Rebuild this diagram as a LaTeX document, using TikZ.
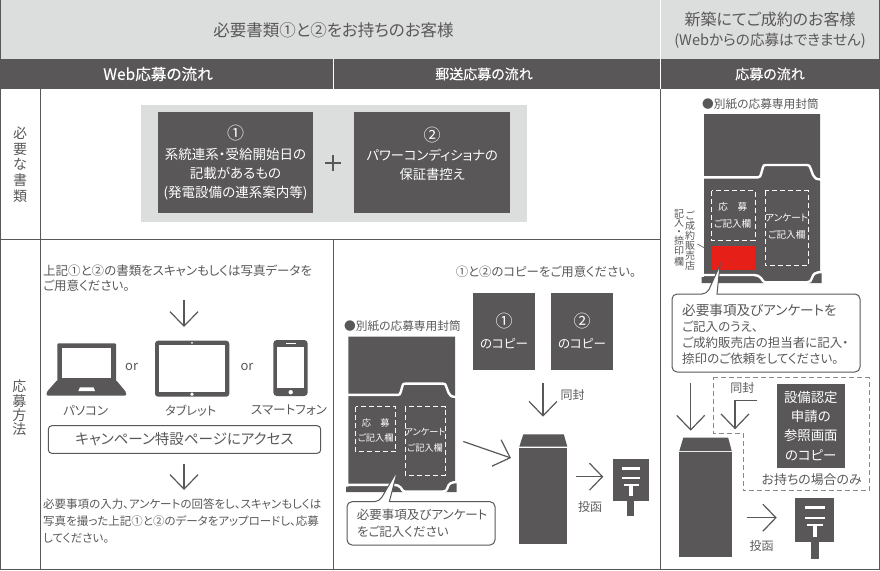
\documentclass[tikz,border=0pt]{standalone}
\usepackage{fontspec}
\setmainfont{Noto Sans CJK JP}[RawFeature={+palt}]
\usetikzlibrary{arrows.meta}
\definecolor{ink}{HTML}{595757}
\definecolor{pale}{HTML}{DCDDDD}
\definecolor{stamp}{HTML}{E71F19}
\newcommand\jfs[2]{\fontsize{#1}{#2}\selectfont}
\tikzset{
  txt/.style={inner sep=0pt,text=ink,font=\jfs{12}{15}},
  wtxt/.style={inner sep=0pt,text=white,font=\jfs{12.5}{19},align=center},
  hdtxt/.style={inner sep=0pt,text=white,font=\jfs{14}{18}\addfontfeature{FakeBold=0.2}},
  darkbox/.style={fill=ink,draw=none,inner sep=0pt,text=white,align=center},
  bigarrow/.style={draw=ink,line width=1.2pt,-{Straight Barb[length=14.5pt,width=28pt,line width=1.2pt]}},
  smallarrow/.style={draw=ink,line width=1.2pt,-{Straight Barb[length=13pt,width=27pt,line width=1.2pt]}},
  gridline/.style={draw=ink,line width=.9pt},
  dashbox/.style={draw=white,line width=.9pt,dash pattern=on 5pt off 3pt},
  envelope/.pic={
    \fill[ink] (0,0)--(116,0)--(116,158)--(117.7,158)--(117.7,169)--(-2.3,169)--(-2.3,163)--(0,163)--cycle;
    \draw[white,line width=2.4pt] (-4,63.3)--(54,63.3) .. controls (56,63.3) and (56.5,62) .. (57,60) -- (59,53) .. controls (59.5,51.5) and (60,51) .. (62,51) -- (103,51) .. controls (105,51) and (105.5,52) .. (106,53) -- (109,61) .. controls (110,64) and (112,65.5) .. (118,65.5);
    \draw[white,line width=2.4pt] (-4,161)--(50,161) .. controls (53,161) and (55,162) .. (57,164) -- (59,167) .. controls (60,168.3) and (61,168.3) .. (63,168.3) -- (103,168.3) .. controls (106,168.3) and (107,167) .. (108,164) .. controls (109,160) and (111,158) .. (119,158);
    \fill[white] (60,168.5) rectangle (104,171);
  },
  postbox/.pic={
    \fill[ink] (0,0) rectangle (39,44.6);
    \fill[ink] (15.4,44) rectangle (23.4,61);
    \fill[white] (9.7,8) rectangle (29.7,11.3);
    \fill[white] (9.7,19) rectangle (29.7,21);
    \fill[white] (12,26.3) rectangle (28,28.3);
    \fill[white] (18,27) rectangle (21.4,39);
  }
}
\newcommand\closedenv[5]{% left, right, top, flap bottom, bottom
  \fill[ink] ({#1+4},#3)--({#2-3.5},#3)--(#2,#4)--(#1,#4)--cycle;
  \fill[ink] (#1,{#4+1.3}) rectangle (#2,#5);
}
\begin{document}
\begin{tikzpicture}[x=1pt,y=-1pt]
\useasboundingbox (0,0) rectangle (880,570);
% header bands
\fill[pale] (0,0) rectangle (880,59);
\fill[ink] (0,59) rectangle (880,89);
\draw[white,line width=1pt] (660,0)--(660,59);
\draw[white,line width=1pt] (333,59)--(333,89);
\draw[white,line width=1pt] (660,59)--(660,89);
\node[txt,font=\jfs{16.5}{18}] (h1) at (333.5,30) {必要書類①と②をお持ちのお客様};
\node[txt,font=\jfs{16}{21},align=center] (h2) at (770,30) {新築にてご成約のお客様\\[-.5pt]{\jfs{14.6}{21}(Webからの応募はできません)}};
\node[hdtxt,font=\jfs{15.6}{18}\addfontfeature{FakeBold=0.2}] (h3) at (158,74) {Web応募の流れ};
\node[hdtxt] (h4) at (484,74) {郵送応募の流れ};
\node[hdtxt] (h5) at (770,74) {応募の流れ};
% grid
\draw[gridline] (.5,0)--(.5,569.2)--(879.5,569.2)--(879.5,0);
\draw[gridline] (40,89)--(40,569.2);
\draw[gridline] (0,239.5)--(660,239.5);
\draw[gridline] (333,239.5)--(333,569.2);
\draw[gridline] (660,89)--(660,569.2);
% row labels
\node[txt,font=\jfs{14}{15.8},align=center] (r1) at (20,164.5) {必\\要\\な\\書\\類};
\node[txt,font=\jfs{14}{14.3},align=center] (r2) at (19.5,408) {応\\募\\方\\法};
% required documents
\fill[pale] (141,105) rectangle (526.7,221.7);
\node[darkbox,minimum width=155.6pt,minimum height=101pt,font=\jfs{13.5}{19.2}] (doc1) at (235.5,162.8) {{\jfs{17}{21}①}\\系統連系・受給開始日の\\記載があるもの\\(発電設備の連系案内等)};
\node[darkbox,minimum width=155.6pt,minimum height=101pt,font=\jfs{13.3}{19.2}] (doc2) at (432.2,162.8) {{\jfs{17}{21}②}\\パワーコンディショナの\\保証書控え\\\mbox{}};
\draw[ink,line width=2pt] (325.3,163.3)--(341.3,163.3) (333.3,155.3)--(333.3,171.3);
% web column
\node[txt,font=\jfs{12.5}{15.5},align=left,anchor=north west] (w1) at (43,264.5) {上記①と②の書類をスキャンもしくは写真データを\\ご用意ください。};
\coordinate (wa1s) at (184,300); \coordinate (wa1e) at (184,327);
\draw[bigarrow] (wa1s)--(wa1e);
% laptop
\fill[ink,rounded corners=1pt] (57.3,343.3) rectangle (116,387);
\fill[ink,rounded corners=1.2pt] (57.3,380)--(116,380)--(126,392)--(126,395.7)--(46.7,395.7)--(46.7,392)--cycle;
\fill[white] (62,348) rectangle (111.3,378.3);
\fill[white] (80,387.3)--(93.5,387.3)--(95,391)--(78.3,391)--cycle;
% tablet
\fill[ink,rounded corners=3pt] (155,340.7) rectangle (229.3,396.7);
\fill[white] (159.3,345) rectangle (225,391.7);
\fill[white] (192,342.9) circle (1pt);
\fill[white] (192,394.2) circle (1.9pt);
% phone
\fill[ink,rounded corners=3.5pt] (273.3,340) rectangle (307.7,396);
\fill[white] (277.3,346.7) rectangle (304.3,388.3);
\fill[white] (285.7,342.6) rectangle (296,344);
\fill[white] (290.7,392.2) circle (2.2pt);
\node[txt,font=\jfs{12.5}{14}] (d1) at (85.7,410.3) {パソコン};
\node[txt,font=\jfs{12.2}{14}] (d2) at (190.7,410.3) {タブレット};
\node[txt,font=\jfs{12.6}{14}] (d3) at (289,410.3) {スマートフォン};
\node[txt,font=\jfs{13}{14}] (o1) at (131.7,366.7) {or};
\node[txt,font=\jfs{13}{14}] (o2) at (247,366.7) {or};
\node[draw=ink,line width=1pt,rounded corners=3.5pt,minimum width=272.4pt,minimum height=27.6pt,inner sep=0pt,text=ink,font=\jfs{14.5}{16}] (camp) at (184.5,439.5) {キャンペーン特設ページにアクセス};
\coordinate (wa2s) at (184,464); \coordinate (wa2e) at (184,490);
\draw[bigarrow] (wa2s)--(wa2e);
\node[txt,font=\jfs{11.5}{17},align=left,anchor=north west] (w2) at (43,498) {必要事項の入力、アンケートの回答をし、スキャンもしくは\\写真を撮った上記①と②のデータをアップロードし、応募\\してください。};
% mail column
\node[txt,font=\jfs{12.4}{15}] (m1) at (546,272) {①と②のコピーをご用意ください。};
\node[darkbox,minimum width=62pt,minimum height=77pt,font=\jfs{12.5}{21}] (c1) at (504,331) {{\jfs{17}{21}①}\\のコピー};
\node[darkbox,minimum width=62pt,minimum height=77pt,font=\jfs{12.5}{21}] (c2) at (582,331) {{\jfs{17}{21}②}\\のコピー};
\node[txt,font=\jfs{11.7}{14},anchor=west] (m2) at (344,326.5) {●別紙の応募専用封筒};
\pic[scale=.92] at (348.3,336.7) {envelope};
\draw[dashbox] (355.7,406.7) rectangle (395.7,451.7);
\draw[dashbox] (405,406.7) rectangle (445,475);
\node[wtxt,font=\jfs{9.2}{15.5}] (e1) at (375.7,430.7) {応　募\\ご記入欄};
\node[wtxt,font=\jfs{9.2}{16.5}] (e2) at (425,440) {アンケート\\ご記入欄};
\draw[draw=ink,fill=white,line width=1pt,rounded corners=5pt] (379.3,501.7) [sharp corners] --(397.7,470)--(389.3,501.7) [rounded corners=5pt] --(495,501.7)--(495,545)--(347,545)--(347,501.7)--cycle;
\node[txt,font=\jfs{12.5}{16.7},align=left,anchor=west] (e3) at (356.7,523.3) {必要事項及びアンケート\\をご記入ください};
\coordinate (ma1s) at (543,383); \coordinate (ma1e) at (543,416.7);
\draw[bigarrow] (ma1s)--(ma1e);
\node[txt] (m3) at (572.7,395) {同封};
\coordinate (ma2s) at (463.3,441.5); \coordinate (ma2e) at (511,458);
\draw[bigarrow] (ma2s)--(ma2e);
\closedenv{519.3}{567.3}{434.3}{446.7}{544}
\coordinate (ma3s) at (576,476.7); \coordinate (ma3e) at (603.3,476.7);
\draw[smallarrow] (ma3s)--(ma3e);
\node[txt] (m4) at (590,506.7) {投函};
\pic[scale=.93] at (612.7,459.3) {postbox};
% new-build column
\node[txt,font=\jfs{11.7}{14},anchor=west] (n1) at (702,104) {●別紙の応募専用封筒};
\pic at (704,114) {envelope};
\draw[dashbox] (711.7,190.7) rectangle (755,240);
\draw[dashbox] (765,190.7) rectangle (808,265.7);
\fill[stamp] (711.7,246) rectangle (755,270);
\node[wtxt,font=\jfs{9.6}{17}] (n2) at (732.7,215.8) {応　募\\ご記入欄};
\node[wtxt,font=\jfs{9.6}{16.7}] (n3) at (786.7,226.7) {アンケート\\ご記入欄};
\node[txt,font=\jfs{10}{10},align=center,anchor=north] (n4) at (690,211) {ご\\成\\約\\販\\売\\店};
\node[txt,font=\jfs{10}{9},align=center,anchor=north] (n5) at (679,209.5) {記\\入\\・\\捺\\印\\欄};
\coordinate (ls) at (697.3,244); \coordinate (le) at (711.7,251.7);
\draw[draw=ink,line width=.6pt] (ls)--(le);
\draw[draw=ink,fill=white,line width=1pt,rounded corners=5pt] (707,294) [sharp corners] --(720,265)--(717,294) [rounded corners=5pt] --(860,294)--(860,372)--(672,372)--(672,294)--cycle;
\node[txt,font=\jfs{12.5}{15.9},align=left,anchor=west] (n6) at (682,334) {{\jfs{13.6}{15.9}必要事項及びアンケートを}\\ご記入のうえ、\\ご成約販売店の担当者に記入・\\捺印のご依頼をしてください。};
\coordinate (na1s) at (690.7,383.3); \coordinate (na1e) at (690.7,430.7);
\draw[bigarrow] (na1s)--(na1e);
\draw[draw=ink!70,line width=.9pt,dash pattern=on 5pt off 3pt] (713.3,377.3)--(869,377.3)--(869,490.7)--(743.3,490.7)--(743.3,433.3)--(713.3,433.3)--cycle;
\node[txt] (n7) at (742.3,388.3) {同封};
\coordinate (na2s) at (757.3,400.7); \coordinate (na2c) at (735,400.7); \coordinate (na2e) at (735,429.3);
\draw[bigarrow] (na2s)--(na2c)--(na2e);
\node[darkbox,minimum width=68.3pt,minimum height=83.7pt,font=\jfs{13.4}{19.3}] (n8) at (810.8,425.8) {設備認定\\申請の\\参照画面\\のコピー};
\node[txt,font=\jfs{12.9}{14}] (n9) at (811.7,479.3) {お持ちの場合のみ};
\closedenv{679.3}{731.7}{437.7}{451}{556.7}
\coordinate (na3s) at (747.3,517.7); \coordinate (na3e) at (776.7,517.7);
\draw[smallarrow] (na3s)--(na3e);
\node[txt] (n10) at (761.7,546) {投函};
\pic at (795.3,497.7) {postbox};
\end{tikzpicture}
\end{document}
